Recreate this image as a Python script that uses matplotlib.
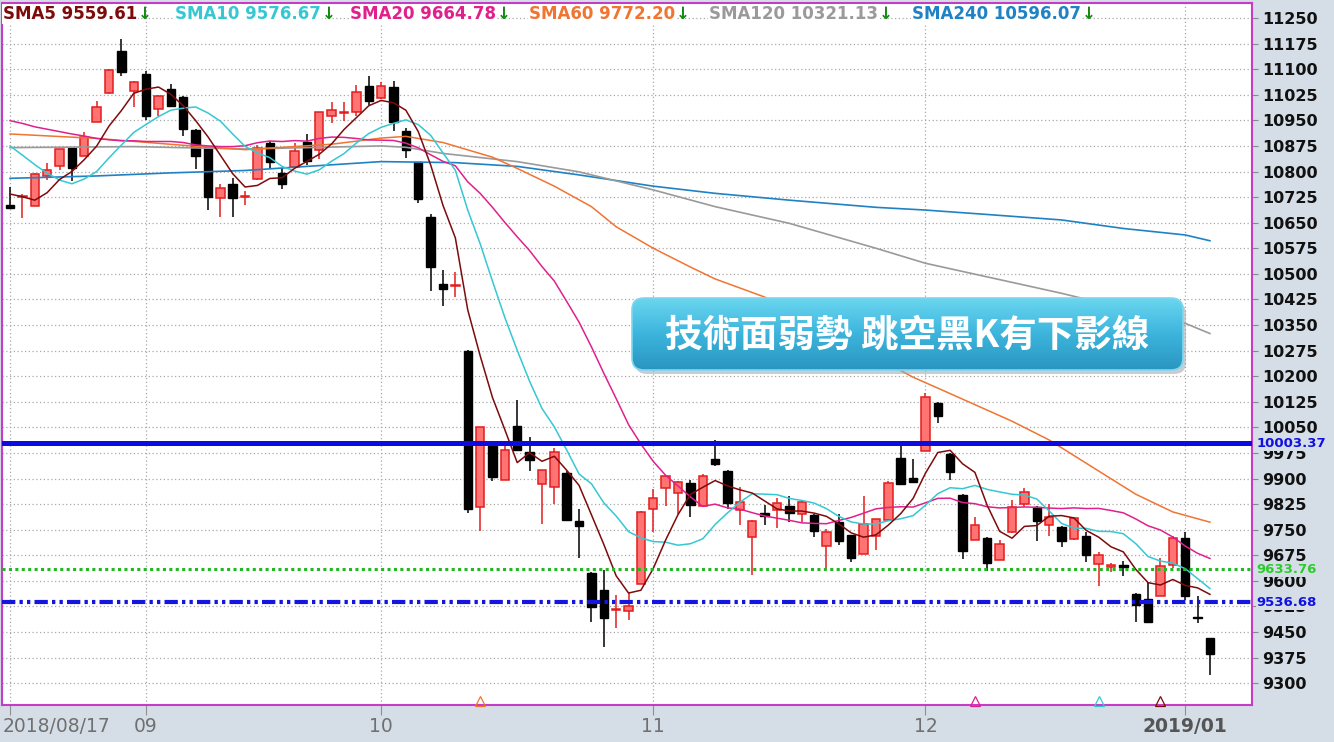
import numpy as np
import pandas as pd
import matplotlib
matplotlib.use("Agg")
import matplotlib.pyplot as plt
import matplotlib.transforms as mtransforms
from matplotlib.patches import FancyBboxPatch

# ---- data (TAIEX daily, 2018/08/17 - 2019/01/04) ----
opens = [10703, 10725, 10700, 10788, 10817, 10868, 10846, 10946, 11029, 11154,
         11036, 11087, 10982, 11042, 11017, 10922, 10871, 10722, 10763, 10726,
         10779, 10884, 10796, 10814, 10887, 10862, 10962, 10971, 10973, 11052,
         11015, 11049, 10920, 10827, 10668, 10470, 10463, 10275, 9816, 9994,
         9897, 10054, 9979, 9885, 9876, 9916, 9776, 9624, 9573, 9515,
         9513, 9592, 9812, 9871, 9857, 9886, 9818, 9958, 9923, 9807,
         9728, 9800, 9807, 9820, 9797, 9794, 9701, 9772, 9733, 9680,
         9732, 9777, 9960, 9901, 9982, 10121, 9972, 9852, 9721, 9726,
         9662, 9742, 9824, 9816, 9763, 9758, 9722, 9732, 9649, 9640,
         9646, 9562, 9548, 9557, 9647, 9725, 9495, 9431]
highs = [10756, 10733, 10795, 10824, 10867, 10870, 10915, 11006, 11100, 11187,
         11065, 11095, 11023, 11058, 11020, 10924, 10873, 10764, 10781, 10743,
         10879, 10889, 10811, 10884, 10911, 10975, 11004, 11005, 11054, 11079,
         11061, 11064, 10928, 10829, 10674, 10512, 10504, 10278, 10052, 9996,
         10008, 10131, 10023, 9926, 9989, 9921, 9810, 9626, 9631, 9558,
         9568, 9805, 9870, 9909, 9892, 9897, 9912, 10012, 9925, 9876,
         9779, 9823, 9844, 9849, 9833, 9796, 9753, 9797, 9735, 9850,
         9782, 9892, 10001, 9957, 10150, 10125, 9975, 9855, 9787, 9728,
         9721, 9836, 9872, 9818, 9824, 9760, 9785, 9743, 9685, 9652,
         9659, 9564, 9596, 9668, 9730, 9742, 9555, 9431]
lows = [10690, 10664, 10698, 10774, 10803, 10771, 10845, 10945, 11028, 11080,
        10988, 10951, 10963, 10990, 10904, 10807, 10688, 10668, 10668, 10702,
        10776, 10806, 10749, 10812, 10819, 10838, 10942, 10949, 10962, 10994,
        11013, 10918, 10840, 10708, 10450, 10407, 10431, 9800, 9747, 9894,
        9895, 9982, 9923, 9766, 9826, 9777, 9667, 9479, 9405, 9461,
        9485, 9590, 9742, 9818, 9796, 9786, 9816, 9938, 9810, 9764,
        9618, 9764, 9754, 9773, 9772, 9729, 9636, 9704, 9656, 9678,
        9690, 9775, 9882, 9888, 9980, 10062, 9897, 9665, 9720, 9629,
        9660, 9740, 9817, 9717, 9732, 9700, 9720, 9656, 9586, 9625,
        9614, 9480, 9475, 9555, 9637, 9543, 9475, 9323]
closes = [10693, 10728, 10792, 10805, 10865, 10810, 10902, 10990, 11099, 11092,
          11063, 10963, 11021, 10993, 10924, 10846, 10725, 10751, 10722, 10729,
          10869, 10827, 10762, 10859, 10832, 10973, 10979, 10973, 11033, 11006,
          11051, 10944, 10864, 10720, 10519, 10457, 10466, 9810, 10050, 9905,
          9984, 9984, 9955, 9924, 9979, 9779, 9762, 9524, 9490, 9518,
          9527, 9803, 9844, 9907, 9890, 9823, 9907, 9943, 9829, 9832,
          9776, 9791, 9827, 9798, 9831, 9746, 9743, 9716, 9667, 9768,
          9780, 9886, 9884, 9889, 10138, 10084, 9918, 9687, 9763, 9651,
          9707, 9817, 9860, 9775, 9788, 9717, 9783, 9676, 9677, 9646,
          9642, 9528, 9480, 9643, 9727, 9555, 9492, 9385]

# moving-average values before enough closes are on the chart
sma5_head = [10734, 10726, 10716, 10738]
sma10_head = [10875, 10848, 10820, 10795, 10775, 10764, 10778, 10800, 10840]
sma20_head = [10949, 10941, 10931, 10924, 10917, 10910, 10904, 10897, 10893, 10890,
              10890, 10888, 10888, 10888, 10885, 10878, 10875, 10873, 10873]

# long averages read at a few candles
sma60_idx = [0, 7, 15, 19, 26, 30, 32, 35, 39, 41, 44, 47, 49, 52, 55, 57, 61, 73, 75, 81, 84, 88, 91, 94, 97]
sma60_val = [10910, 10897, 10874, 10864, 10880, 10898, 10903, 10885, 10842, 10809, 10757, 10697, 10638,
             10575, 10520, 10485, 10432, 10197, 10165, 10068, 10013, 9922, 9854, 9802, 9772]
sma120_idx = [0, 10, 19, 24, 30, 32, 35, 41, 46, 52, 57, 63, 70, 74, 79, 85, 95, 97]
sma120_val = [10870, 10873, 10866, 10870, 10875, 10871, 10853, 10829, 10799, 10746, 10697, 10648,
              10575, 10531, 10491, 10443, 10355, 10325]
sma240_idx = [0, 7, 13, 19, 24, 30, 36, 41, 46, 52, 57, 63, 70, 74, 79, 85, 90, 95, 97]
sma240_val = [10780, 10787, 10796, 10803, 10815, 10829, 10826, 10815, 10790, 10757, 10736, 10716,
              10695, 10687, 10674, 10658, 10633, 10614, 10597]

legend_names = ['SMA5', 'SMA10', 'SMA20', 'SMA60', 'SMA120', 'SMA240']
legend_values = ['9559.61', '9576.67', '9664.78', '9772.20', '10321.13', '10596.07']

level_lines = [10003.37, 9633.76, 9536.68]

month_idx = [0, 11, 30, 52, 74, 95]
month_labels = ['2018/08/17', '09', '10', '11', '12', '2019/01']

signal_idx = [38, 78, 88, 93]

title_text = '技術面弱勢 跳空黑K有下影線'

# ---- colours ----
c_sma = ['#7d0b0b', '#35c8d2', '#e0208c', '#f07432', '#9a9a9a', '#1f82c4']
c_up_face, c_up_edge = '#ff7373', '#e41c1c'
bg = '#d5dde6'

W, H = 1334, 742
fig = plt.figure(figsize=(W / 100, H / 100), dpi=100, facecolor=bg)
ax = fig.add_axes([2 / W, 37 / H, 1250 / W, 702 / H])
ax.set_facecolor('white')
ax.set_xlim(-0.65, 100.4)
ax.set_ylim(9236, 11294)

for sp in ax.spines.values():
    sp.set_color('#c63cc6')
    sp.set_linewidth(1.5)

# grid
ax.set_yticks(np.arange(9300, 11251, 75))
ax.set_xticks(month_idx)
ax.grid(True, color='#a9a9a9', ls=(0, (1, 2)), lw=0.9, zorder=0)

# candles
x = np.arange(len(closes))
o, h, l, c = map(np.array, (opens, highs, lows, closes))
up = c >= o
lo = np.minimum(o, c)
hh = np.maximum(np.abs(c - o), 3)
ax.vlines(x[up], l[up], h[up], color=c_up_edge, lw=1.1, zorder=3)
ax.vlines(x[~up], l[~up], h[~up], color='black', lw=1.1, zorder=3)
ax.bar(x[up], hh[up], bottom=lo[up], width=0.68, color=c_up_face,
       edgecolor=c_up_edge, lw=1.1, zorder=4)
ax.bar(x[~up], hh[~up], bottom=lo[~up], width=0.68, color='black',
       edgecolor='black', lw=1, zorder=4)

# moving averages
s = pd.Series(closes, dtype=float)
sma5 = np.r_[sma5_head, s.rolling(5).mean().dropna().values]
sma10 = np.r_[sma10_head, s.rolling(10).mean().dropna().values]
sma20 = np.r_[sma20_head, s.rolling(20).mean().dropna().values]
ax.plot(sma240_idx, sma240_val, color=c_sma[5], lw=1.2, zorder=5)
ax.plot(sma120_idx, sma120_val, color=c_sma[4], lw=1.2, zorder=5)
ax.plot(sma60_idx, sma60_val, color=c_sma[3], lw=1.1, zorder=5)
ax.plot(x, sma20, color=c_sma[2], lw=1.1, zorder=5)
ax.plot(x, sma10, color=c_sma[1], lw=1.1, zorder=5)
ax.plot(x, sma5, color=c_sma[0], lw=1.1, zorder=5)

# level lines
ax.axhline(level_lines[0], color='#0b0be2', lw=3.6, zorder=6)
ax.axhline(level_lines[1], color='#22b822', lw=2.2, ls=(0, (1, 1.1)), zorder=6)
ax.axhline(level_lines[2], color='#1515e0', lw=3.0, ls=(0, (3.2, 1.0, 0.8, 1.0, 0.8, 1.0)), zorder=6)

# signal triangles at the bottom
for i, col in zip(signal_idx, [c_sma[3], c_sma[2], c_sma[1], c_sma[0]]):
    ax.plot(i, 9247, marker='^', ms=7, mfc='none', mec=col, mew=0.9, zorder=6, clip_on=False)

# right axis labels
ax.yaxis.tick_right()
ax.tick_params(axis='y', length=4, color='#888888', pad=3, labelsize=11.5, labelcolor='#111111')
for t in ax.get_yticklabels():
    t.set_fontweight('bold')
trans = mtransforms.blended_transform_factory(ax.transAxes, ax.transData)
for val, col in zip(level_lines, ['#1010e0', '#2ccc2c', '#1010e0']):
    ax.text(1.0035, val, f'{val:.2f}', transform=trans, color=col, fontsize=9.5,
            fontweight='bold', va='center', ha='left', zorder=10, clip_on=False,
            bbox=dict(fc=bg, ec='none', pad=0.6))

# bottom axis labels
ax.set_xticklabels([''] + month_labels[1:])
ax.tick_params(axis='x', length=7, color='#909090', pad=1.5, labelsize=13.5, labelcolor='#707070')
xl = ax.get_xticklabels()
xl[-1].set_fontweight('bold')
xl[-1].set_color('#555555')
xtrans = mtransforms.blended_transform_factory(ax.transData, ax.transAxes)
ax.text(-0.6, -0.0168, month_labels[0], transform=xtrans, ha='left', va='top',
        fontsize=13.5, color='#707070', clip_on=False)

# legend strip at the top
ov = fig.add_axes([0, 0, 1, 1], facecolor='none')
ov.set_xlim(0, W)
ov.set_ylim(H, 0)
ov.axis('off')
fig.canvas.draw()
rend = fig.canvas.get_renderer()
for name, val, col, xpos in zip(legend_names, legend_values, c_sma, [3, 175, 350, 529, 709, 912]):
    t = ov.text(xpos, 14, f'{name} {val}', color=col, fontsize=12, fontweight='bold',
                va='center', ha='left', bbox=dict(fc='white', ec='none', pad=0.5))
    bb = t.get_window_extent(rend)
    ov.text(bb.x1 + 1, 14, '↓', color='#138a13', fontsize=12, fontweight='bold',
            va='center', ha='left')

# annotation box with gradient
bx0, by0, bx1, by1 = 632, 298, 1183, 370
shadow = FancyBboxPatch((bx0 + 3, by0 + 4), bx1 - bx0, by1 - by0,
                        boxstyle='round,pad=0,rounding_size=12',
                        fc='#9aa4ac', ec='none', alpha=0.55, zorder=20)
ov.add_patch(shadow)
box = FancyBboxPatch((bx0, by0), bx1 - bx0, by1 - by0,
                     boxstyle='round,pad=0,rounding_size=12',
                     fc='none', ec='#7fd6ee', lw=1.2, zorder=22)
ov.add_patch(box)
grad = np.linspace(0, 1, 100).reshape(-1, 1)
cm = matplotlib.colors.LinearSegmentedColormap.from_list('g', ['#6ad6f0', '#3cb4dc', '#2a96c0'])
im = ov.imshow(grad, cmap=cm, aspect='auto', extent=(bx0, bx1, by1, by0), zorder=21)
im.set_clip_path(box)
ov.text((bx0 + bx1) / 2, (by0 + by1) / 2 + 1, title_text, color='white', fontsize=27,
        fontweight='bold', ha='center', va='center', zorder=23,
        family=['Noto Sans CJK TC', 'DejaVu Sans'])
ov.set_xlim(0, W)
ov.set_ylim(H, 0)

fig.savefig('out.png', dpi=100, facecolor=bg)
